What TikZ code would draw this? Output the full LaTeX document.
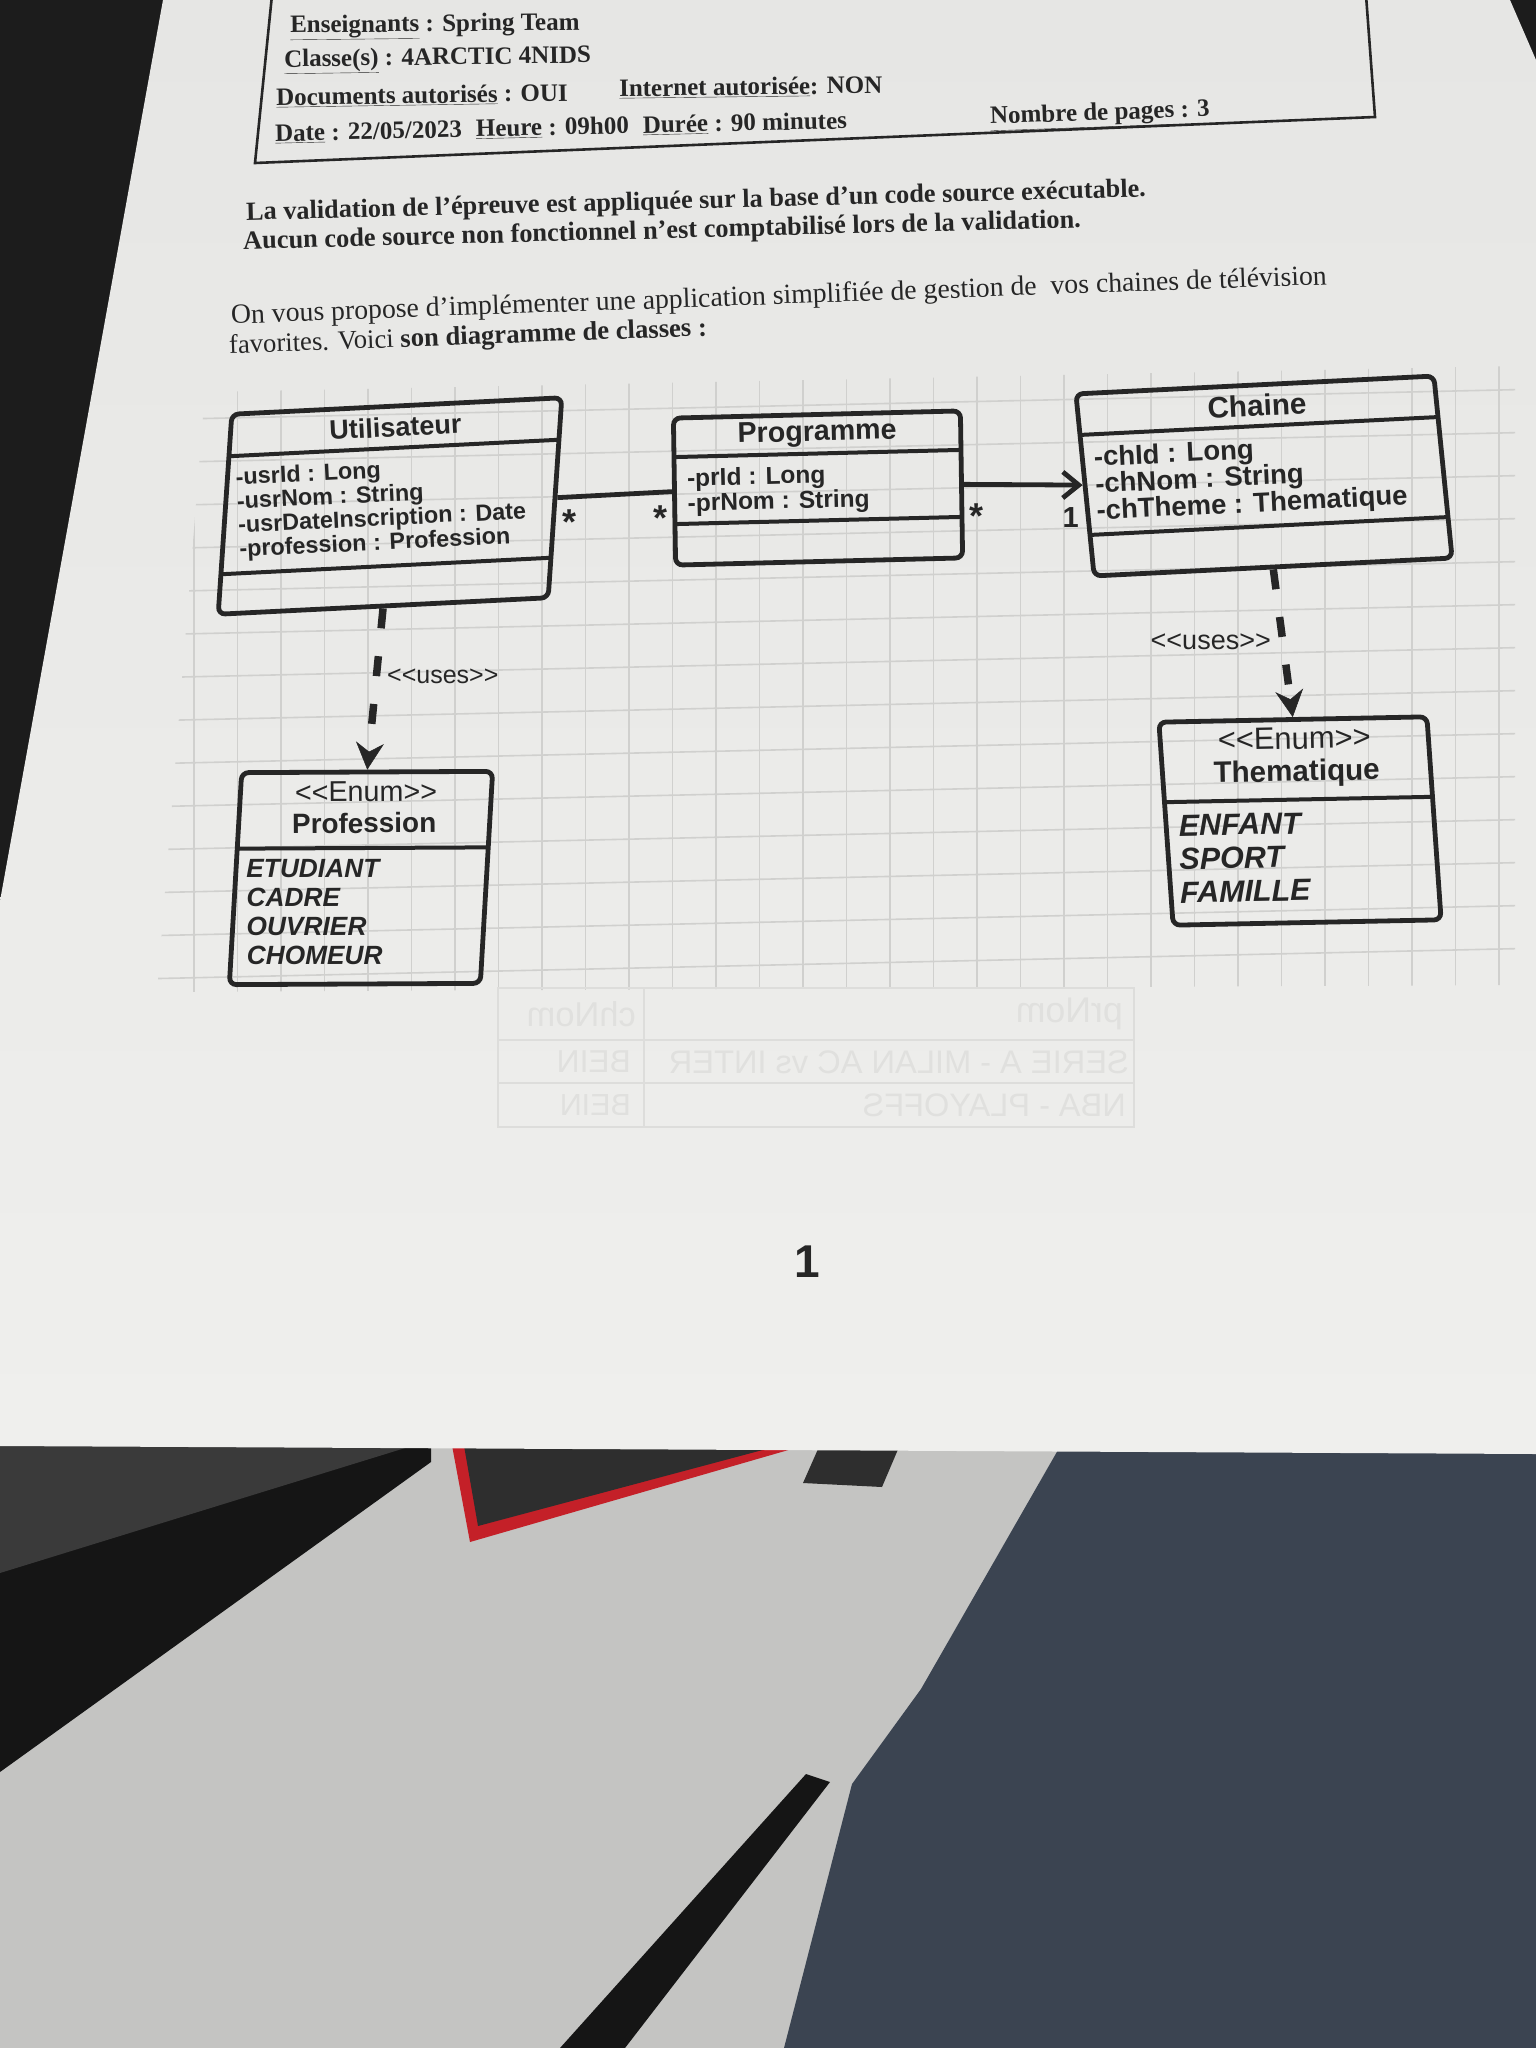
\documentclass[tikz,border=0pt]{standalone}
\usepackage{fontspec}
\setmainfont{Liberation Serif}
\setsansfont{Liberation Sans}
\usepackage{graphicx}
\usetikzlibrary{arrows.meta,calc}

\definecolor{ink}{HTML}{262626}
\definecolor{papertop}{HTML}{E6E6E4}
\definecolor{paperbot}{HTML}{EFEFED}
\definecolor{gridc}{HTML}{D0D0CE}
\definecolor{ghost}{HTML}{DDDDDB}
\definecolor{ghosttext}{HTML}{E0E0DE}
\definecolor{darkbg}{HTML}{1C1C1C}
\definecolor{panel}{HTML}{3A3A3A}
\definecolor{blackish}{HTML}{151515}
\definecolor{floorc}{HTML}{C4C4C2}
\definecolor{denim}{HTML}{3B4451}
\definecolor{redtrim}{HTML}{C42028}
\definecolor{casec}{HTML}{2E2E2E}

\tikzset{
  box/.style={draw=ink, line width=4.8pt, rounded corners=7pt, rectangle, inner sep=0pt},
  bar/.style={draw=ink, line width=4pt},
  clsname/.style={font=\sffamily\bfseries\fontsize{#1}{#1}\selectfont},
  stereo/.style={font=\sffamily\fontsize{#1}{#1}\selectfont},
  attrs/.style 2 args={font=\sffamily\bfseries\fontsize{#1}{#2}\selectfont, align=left, anchor=north west},
  lits/.style 2 args={font=\sffamily\bfseries\itshape\fontsize{#1}{#2}\selectfont, align=left, anchor=north west},
  assoc/.style={draw=ink, line width=4.8pt},
  dep/.style={draw=ink, line width=7.5pt, dash pattern=on 20pt off 28pt,
    -{Stealth[length=27pt, width=28pt, inset=9pt, line width=0.5pt]}},
  mult/.style={font=\sffamily\bfseries\fontsize{#1}{#1}\selectfont},
  usesl/.style={font=\sffamily\fontsize{#1}{#1}\selectfont},
  headl/.style={font=\bfseries\fontsize{25}{25}\selectfont, anchor=west},
  ghosttxt/.style={text=ghosttext, font=\sffamily\fontsize{26}{26}\selectfont, xscale=-1, anchor=west},
}

\begin{document}
\begin{tikzpicture}[x=1pt, y=-1pt, every node/.style={inner sep=0pt, text=ink}]
\useasboundingbox (0,0) rectangle (1536,2048);

% ---------- surroundings ----------
\fill[darkbg] (0,0) rectangle (1536,2048);
\fill[floorc] (0,1440) rectangle (1536,2048);
% desk edge on the left
\fill[blackish] (0,1440) -- (431,1440) -- (431,1462) -- (0,1772) -- cycle;
\fill[panel] (0,1440) -- (431,1440) -- (0,1573) -- cycle;
% red-trimmed case
\fill[redtrim] (451,1440) -- (823,1440) -- (470,1542) -- cycle;
\fill[casec] (463,1440) -- (800,1440) -- (478,1526) -- cycle;
\fill[casec] (822,1440) -- (902,1440) -- (882,1487) -- (803,1483) -- cycle;
% chair leg
\fill[blackish] (560,2048) -- (625,2048) -- (830,1782) -- (806,1774) -- cycle;
% jeans
\fill[denim] (1058,1450) -- (1536,1450) -- (1536,2048) -- (784,2048) -- (852,1784) -- (921,1689) -- cycle;

% ---------- paper ----------
\shade[top color=papertop, bottom color=paperbot]
  (163,0) -- (1510,0) -- (1536,60) -- (1536,1454) -- (0,1446) -- (0,901) -- cycle;

% squared grid under the diagram
\begin{scope}
  \clip (205,392) -- (1515,366) -- (1515,985) -- (157,992) -- cycle;
  \begin{scope}[cm={1,0.022,0,1,(0,0)}]
    \foreach \gx in {150.5,194,...,1530}
      \draw[gridc, line width=1.6pt] (\gx,300) -- (\gx,1060);
    \foreach \gy in {380,423,...,1060}
      \draw[gridc, line width=1.6pt] (100,\gy) -- (1560,\gy);
  \end{scope}
\end{scope}

% table printed on the back of the sheet, seen through the paper
\draw[ghost, line width=1.6pt] (498,988) rectangle (1134,1127);
\draw[ghost, line width=1.6pt] (498,1040) -- (1134,1040);
\draw[ghost, line width=1.6pt] (498,1083) -- (1134,1083);
\draw[ghost, line width=1.6pt] (644,988) -- (644,1127);
\node[ghosttxt] (g1) at (636,1014) {\resizebox{109pt}{!}{chNom}};
\node[ghosttxt] (g2) at (1123,1014) {\resizebox{107pt}{!}{prNom}};
\node[ghosttxt] (g3) at (631,1062) {\resizebox{74pt}{!}{BEIN}};
\node[ghosttxt] (g4) at (1129,1062) {\resizebox{460pt}{!}{SERIE A - MILAN AC vs INTER}};
\node[ghosttxt] (g5) at (631,1105) {\resizebox{71pt}{!}{BEIN}};
\node[ghosttxt] (g6) at (1126,1105) {\resizebox{263pt}{!}{NBA - PLAYOFFS}};

% ---------- header frame ----------
\draw[ink, line width=2.6pt] (272,-5) -- (255,163) -- (1375,117) -- (1366,-5);
\node[headl, rotate=0.6] (h1) at (290,28) {\underline{Enseignants} : Spring Team};
\node[headl, rotate=0.8] (h2) at (284,62) {\underline{Classe(s)} : 4ARCTIC 4NIDS};
\node[headl, rotate=0.9] (h3) at (276,98) {\underline{Documents autorisés} : OUI};
\node[headl, rotate=0.7] (h4) at (619,89) {\underline{Internet autorisée}: NON};
\node[headl, rotate=1.3] (h5) at (275,134) {\underline{Date} : 22/05/2023\hspace{14pt}\underline{Heure} : 09h00\hspace{14pt}\underline{Durée} : 90 minutes};
\node[headl, rotate=2.0] (h6) at (990,119) {\underline{Nombre de pages} : 3};

% ---------- introductory text ----------
\node[anchor=west, rotate=1.5] (p1) at (246,214)
  {\resizebox{900pt}{!}{\bfseries La validation de l’épreuve est appliquée sur la base d’un code source exécutable.}};
\node[anchor=west, rotate=1.5] (p2) at (243,243)
  {\resizebox{838pt}{!}{\bfseries Aucun code source non fonctionnel n’est comptabilisé lors de la validation.}};
\node[anchor=west, rotate=2.05] (p3) at (231,317)
  {\resizebox{1096pt}{!}{On vous propose d’implémenter une application simplifiée de gestion de\ \ vos chaines de télévision}};
\node[anchor=west, rotate=2.1] (p4) at (229,347)
  {\resizebox{478pt}{!}{favorites. Voici \textbf{son diagramme de classes :}}};

% ---------- class diagram ----------
% each box is drawn in its own slightly skewed frame; the texts sit at
% coordinates of that frame but are only rotated, so they stay upright

% Utilisateur
\begin{scope}[cm={1,0.05,0.068,1,(390,506)}, transform shape]
  \node[box, minimum width=330pt, minimum height=200pt] (util) at (0,0) {};
  \draw[bar] (-165,-58) -- (165,-58);
  \draw[bar] (-165,60) -- (165,60);
  \coordinate (utilTc) at (0,-79);
  \coordinate (utilAc) at (-158,-46);
\end{scope}
\node[clsname=27, rotate=2.86] (utilT) at (utilTc) {Utilisateur};
\node[attrs={23.4}{24}, rotate=2.86] (utilA) at (utilAc)
  {-usrId : Long\\-usrNom : String\\-usrDateInscription : Date\\-profession : Profession};

% Programme
\begin{scope}[cm={1,0.025,-0.015,1,(818,488)}, transform shape]
  \node[box, minimum width=287pt, minimum height=147pt] (prog) at (0,0) {};
  \draw[bar] (-143.5,-34.5) -- (143.5,-34.5);
  \draw[bar] (-143.5,32.5) -- (143.5,32.5);
  \coordinate (progTc) at (0,-54);
  \coordinate (progAc) at (-131,-23);
\end{scope}
\node[clsname=28.6, rotate=1.43] (progT) at (progTc) {Programme};
\node[attrs={24.5}{25}, rotate=1.43] (progA) at (progAc) {-prId : Long\\-prNom : String};

% Chaine
\begin{scope}[cm={1,0.05,-0.1,1,(1264,476)}, transform shape]
  \node[box, minimum width=358pt, minimum height=182pt] (chaine) at (0,0) {};
  \draw[bar] (-179,-50) -- (179,-50);
  \draw[bar] (-179,50) -- (179,50);
  \coordinate (chaineTc) at (0,-70.5);
  \coordinate (chaineAc) at (-167,-38);
\end{scope}
\node[clsname=29.7, rotate=2.86] (chaineT) at (chaineTc) {Chaine};
\node[attrs={27.5}{25}, rotate=2.86] (chaineA) at (chaineAc)
  {-chId : Long\\-chNom : String\\-chTheme : Thematique};

% Profession
\begin{scope}[cm={1,0.005,0.058,1,(361,878)}, transform shape]
  \node[box, minimum width=251pt, minimum height=212pt] (prof) at (0,0) {};
  \draw[bar] (-125.5,-30) -- (125.5,-30);
  \coordinate (profSc) at (0,-86);
  \coordinate (profTc) at (0,-55);
  \coordinate (profLc) at (-116,-19);
\end{scope}
\node[stereo=28.7, rotate=0.3] (profS) at (profSc) {<{}<Enum>{}>};
\node[clsname=27.9, rotate=0.3] (profT) at (profTc) {Profession};
\node[lits={26.3}{29}, rotate=0.3] (profL) at (profLc) {ETUDIANT\\CADRE\\OUVRIER\\CHOMEUR};

% Thematique
\begin{scope}[cm={1,0.02,-0.07,1,(1300,821)}, transform shape]
  \node[box, minimum width=268pt, minimum height=203pt] (them) at (0,0) {};
  \draw[bar] (-134,-21.5) -- (134,-21.5);
  \coordinate (themSc) at (0,-82.5);
  \coordinate (themTc) at (0,-47.5);
  \coordinate (themLc) at (-121,-8.5);
\end{scope}
\node[stereo=30.9, rotate=1.15] (themS) at (themSc) {<{}<Enum>{}>};
\node[clsname=29.6, rotate=1.15] (themT) at (themTc) {Thematique};
\node[lits={30.5}{33.5}, rotate=1.15] (themL) at (themLc) {ENFANT\\SPORT\\FAMILLE};

% associations
\draw[assoc] (util.east) -- (prog.west);
\draw[assoc, -{Straight Barb[length=16pt, width=26pt]}] (prog.east) -- (chaine.west);
\node[mult=36] (m1) at ($(util.east)+(12,24)$) {*};
\node[mult=36] (m2) at ($(prog.west)+(-12,26)$) {*};
\node[mult=36] (m3) at ($(prog.east)+(13,32)$) {*};
\node[mult=29] (m4) at ($(chaine.west)+(-12,32)$) {1};

% dependencies
\draw[dep] (util.south) -- (prof.north);
\draw[dep] (chaine.south) -- (them.north);
\node[usesl=25, anchor=west] (u1) at (387,676) {<{}<uses>{}>};
\node[usesl=27, anchor=east] (u2) at (1271,642) {<{}<uses>{}>};

% page number
\node[font=\sffamily\bfseries\fontsize{46}{46}\selectfont] (pagenum) at (807,1262) {1};
\end{tikzpicture}
\end{document}
